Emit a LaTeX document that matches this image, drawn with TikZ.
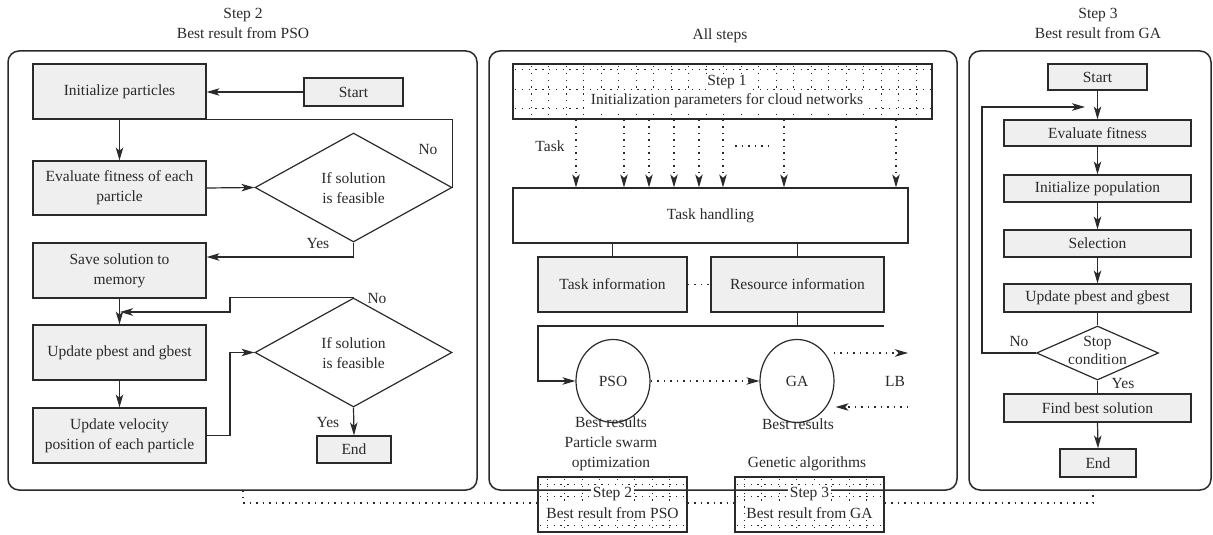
\documentclass[tikz,border=0pt]{standalone}
\usepackage{fontspec}
\setmainfont{Liberation Serif}
\usetikzlibrary{arrows.meta,shapes.geometric,calc}
\definecolor{lc}{HTML}{2A2A2A}
\definecolor{gf}{HTML}{EFEFEF}
\newcommand\fs{\fontsize{15.5}{20}\selectfont}
\begin{document}
\begin{tikzpicture}[x=1pt,y=-1pt,
  every node/.style={font=\fs, text=lc},
  gbox/.style={draw=lc, line width=1.2pt, fill=gf, inner sep=0pt, align=center},
  wbox/.style={draw=lc, line width=1.2pt, fill=white, inner sep=0pt, align=center},
  dbox/.style={draw=lc, line width=1.2pt, shape=diamond, inner sep=0pt},
  oval/.style={draw=lc, line width=1.2pt, ellipse, inner sep=0pt},
  panel/.style={draw=lc, line width=1.5pt, rounded corners=11pt, inner sep=0pt},
  link/.style={draw=lc, line width=1.2pt},
  arr/.style={link, -{Stealth[length=13pt,width=7.5pt,inset=3.5pt]}},
  dotl/.style={draw=lc, line width=1.2pt, dash pattern=on 1.5pt off 5pt},
  darr/.style={dotl, -{Stealth[length=13pt,width=7.5pt,inset=3.5pt]}},
  gridl/.style={draw=lc, line width=1pt, dash pattern=on 1.3pt off 5.5pt},
  lbl/.style={inner sep=0pt, align=center},
  bglbl/.style={fill=white, inner sep=1.5pt, align=center},
]
\useasboundingbox (0,0) rectangle (1213,535);

% ---------- panels and titles ----------
\node[panel, minimum width=469pt, minimum height=439pt] (pL) at (242.5,270.5) {};
\node[panel, minimum width=468pt, minimum height=439pt] (pM) at (723,270.5) {};
\node[panel, minimum width=242pt, minimum height=439pt] (pR) at (1090,270.5) {};
\node[lbl] (tL) at (243,23) {Step 2\\Best result from PSO};
\node[lbl] (tM) at (720,36) {All steps};
\node[lbl] (tR) at (1098,23) {Step 3\\Best result from GA};

% ---------- left panel: PSO ----------
\node[gbox, minimum width=173pt, minimum height=55pt] (init) at (119.5,91.5) {Initialize particles};
\node[gbox, minimum width=99pt, minimum height=28pt] (st1) at (353.5,92) {Start};
\node[gbox, minimum width=173pt, minimum height=54pt] (eval) at (119.5,188) {Evaluate fitness of each\\particle};
\node[dbox, minimum width=197pt, minimum height=109pt] (d1) at (353.5,187.5) {};
\node[lbl] (d1t) at (353.5,188) {If solution\\is feasible};
\node[gbox, minimum width=173pt, minimum height=55pt] (save) at (119.5,270.5) {Save solution to\\memory};
\node[gbox, minimum width=173pt, minimum height=55pt] (upd) at (119.5,352.5) {Update pbest and gbest};
\node[gbox, minimum width=173pt, minimum height=55pt] (vel) at (119.5,435.5) {Update velocity\\position of each particle};
\node[dbox, minimum width=197pt, minimum height=109pt] (d2) at (353.5,352.5) {};
\node[lbl] (d2t) at (353.5,353) {If solution\\is feasible};
\node[gbox, minimum width=74pt, minimum height=27pt] (end1) at (354,449.5) {End};

\node[lbl] (no1) at (428,149) {No};
\node[lbl] (yes1) at (318,243) {Yes};
\node[lbl] (no2) at (377,298) {No};
\node[lbl] (yes2) at (328,422) {Yes};

\coordinate (j1) at (120,312);
\draw[arr] (st1.west) -- (init.east |- st1.west);
\draw[link] (d1.east) |- (init.south east);
\draw[arr] (init.south) -- (eval.north);
\draw[arr] (eval.east) -- (d1.west);
\draw[arr] (d1.south) |- ($(save.east)+(0,-13.5)$);
\draw[arr] (save.south) -- (upd.north);
\draw[arr] (d2.north) -| (230,312) -- (j1);
\draw[arr] (upd.south) -- (vel.north);
\draw[arr] (vel.east) -| (230,352.5) -- (d2.west);
\draw[arr] (d2.south) -- (end1.north);

% ---------- middle panel: all steps ----------
\node[wbox, fill=none, minimum width=419pt, minimum height=55pt] (s1) at (722.5,91.5) {};
\begin{scope}
  \clip (513,64) rectangle (932,119);
  \foreach \x in {531,548.5,...,932} \draw[gridl] (\x,66) -- (\x,119);
  \foreach \y in {70,89,108} \draw[gridl] (515,\y) -- (932,\y);
\end{scope}
\node[bglbl] (s1a) at (727,82) {Step 1};
\node[bglbl] (s1b) at (727,101) {Initialization parameters for cloud networks};

\node[wbox, minimum width=395pt, minimum height=55pt] (th) at (710.5,215.5) {Task handling};
\foreach \x in {576,624,649,674,699,723,784,896}
  \draw[darr] (s1.south -| \x,0) -- (th.north -| \x,0);
\node[lbl] (task) at (550,146) {Task};
\coordinate (dd1) at (735,146);
\coordinate (dd2) at (774,146);
\draw[dotl] (dd1) -- (dd2);

\node[gbox, minimum width=149pt, minimum height=55pt] (ti) at (612.5,284.5) {Task information};
\node[gbox, minimum width=173pt, minimum height=55pt] (ri) at (797.5,284.5) {Resource information};
\draw[link] (th.south -| ti.north) -- (ti.north);
\draw[link] (th.south -| ri.north) -- (ri.north);
\draw[dotl] (ti.east) -- (ri.west);

\node[oval, minimum width=74pt, minimum height=83pt] (pso) at (613,381) {PSO};
\node[oval, minimum width=74pt, minimum height=83pt] (ga) at (797,381) {GA};
\node[lbl] (lb) at (895,381) {LB};
\coordinate (bus) at (884,326);
\draw[link] (ri.south) -- (ri.south |- bus);
\draw[arr] (bus) -- (538,326) |- (pso.west);
\draw[darr] (pso.east) -- (ga.west);
\coordinate (lbo) at (908,353);
\coordinate (lbi) at (908,407);
\draw[darr] ($(ga.east)+(-1,-28)$) -- (lbo);
\draw[darr] (lbi) -- ($(ga.east)+(1,26)$);

\node[lbl] (psor) at (611,444) {Best results\\Particle swarm\\optimization};
\node[lbl] (gar) at (798,424) {Best results};
\node[lbl] (gan) at (807,464) {Genetic algorithms};

% grid boxes on the lower edge of the middle panel
\node[wbox, fill=none, minimum width=149pt, minimum height=55pt] (s2b) at (612.5,504.5) {};
\node[wbox, fill=none, minimum width=149pt, minimum height=55pt] (s3b) at (809.5,504.5) {};
\begin{scope}
  \clip (538,477) rectangle (687,532);
  \foreach \x in {547,564.5,...,687} \draw[gridl] (\x,479) -- (\x,532);
  \foreach \y in {484,496,525} \draw[gridl] (540,\y) -- (687,\y);
\end{scope}
\begin{scope}
  \clip (735,477) rectangle (884,532);
  \foreach \x in {744,761.5,...,884} \draw[gridl] (\x,479) -- (\x,532);
  \foreach \y in {484,496,525} \draw[gridl] (737,\y) -- (884,\y);
\end{scope}
\node[bglbl] (s2a) at (612.5,494) {Step 2};
\node[bglbl] (s2c) at (612.5,513) {Best result from PSO};
\node[bglbl] (s3a) at (809.5,494) {Step 3};
\node[bglbl] (s3c) at (809.5,513) {Best result from GA};

% dotted link along the bottom
\coordinate (bl) at (243,490);
\coordinate (br) at (1093,490);
\draw[dotl] (bl) -- (243,503) -- (s2b.west |- 0,503);
\draw[dotl] (s2b.east |- 0,503) -- (s3b.west |- 0,503);
\draw[dotl] (s3b.east |- 0,503) -- (1093,503) -- (br);

% ---------- right panel: GA ----------
\node[gbox, minimum width=99pt, minimum height=26pt] (st2) at (1097.5,77) {Start};
\node[gbox, minimum width=187pt, minimum height=26pt] (ev2) at (1097.5,133) {Evaluate fitness};
\node[gbox, minimum width=187pt, minimum height=27pt] (ip) at (1097.5,188.5) {Initialize population};
\node[gbox, minimum width=187pt, minimum height=27pt] (sel) at (1097.5,243.5) {Selection};
\node[gbox, minimum width=187pt, minimum height=28pt] (up2) at (1097.5,298) {Update pbest and gbest};
\node[dbox, minimum width=122pt, minimum height=54pt] (d3) at (1097.5,353) {};
\node[lbl, font=\fontsize{15.5}{18}\selectfont] (d3t) at (1097.5,350) {Stop\\condition};
\node[gbox, minimum width=187pt, minimum height=28pt] (fb) at (1097.5,408) {Find best solution};
\node[gbox, minimum width=76pt, minimum height=28pt] (end2) at (1098,463) {End};
\node[lbl] (no3) at (1019,341) {No};
\node[lbl] (yes3) at (1123,383) {Yes};

\coordinate (fbk) at (1085,107);
\draw[arr] (st2.south) -- (ev2.north);
\draw[arr] (ev2.south) -- (ip.north);
\draw[arr] (ip.south) -- (sel.north);
\draw[arr] (sel.south) -- (up2.north);
\draw[link] (up2.south) -- (d3.north);
\draw[link] (d3.south) -- (fb.north);
\draw[arr] (fb.south) -- (end2.north);
\draw[arr] (d3.west) -| (982,107) -- (fbk);
\end{tikzpicture}
\end{document}
